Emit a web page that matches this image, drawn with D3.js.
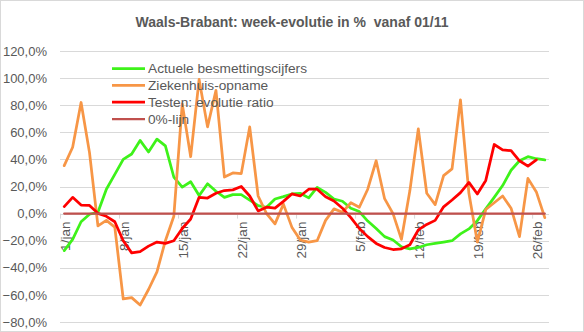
<!DOCTYPE html>
<html><head><meta charset="utf-8">
<script src="https://cdn.jsdelivr.net/npm/d3@7"></script>
<style>
html,body{margin:0;padding:0;background:#fff;}
svg{display:block;font-family:"Liberation Sans",Arial,sans-serif;}
</style></head>
<body>
<svg id="chart" width="584" height="332"></svg>
<script>
const categories = ["1/jan","2/jan","3/jan","4/jan","5/jan","6/jan","7/jan","8/jan","9/jan","10/jan",
"11/jan","12/jan","13/jan","14/jan","15/jan","16/jan","17/jan","18/jan","19/jan","20/jan",
"21/jan","22/jan","23/jan","24/jan","25/jan","26/jan","27/jan","28/jan","29/jan","30/jan","31/jan",
"1/feb","2/feb","3/feb","4/feb","5/feb","6/feb","7/feb","8/feb","9/feb","10/feb",
"11/feb","12/feb","13/feb","14/feb","15/feb","16/feb","17/feb","18/feb","19/feb","20/feb",
"21/feb","22/feb","23/feb","24/feb","25/feb","26/feb","27/feb"];

const tickLabels = ["1/jan","8/jan","15/jan","22/jan","29/jan","5/feb","12/feb","19/feb","26/feb"];
const yTicks = [-80,-60,-40,-20,0,20,40,60,80,100,120];

const actueleBesmettingscijfers = [-27.3,-19,-6,-0.5,1,18,29,40,44,54,
45.5,55,50,27,19.5,23.5,13.3,22,16.5,12,
14,14,10,5.9,4.7,10.8,12.5,14.5,15,11.6,19.4,
15.7,10.8,9.1,3.9,1.5,-5.5,-11,-17,-19.5,-24.5,
-26,-25,-23,-22,-21,-20,-15,-11.3,-5.2,3.5,
12,20.7,32,39,42,40.5,39.6];

const ziekenhuisOpname = [35.4,49,82,45,-9,-5,-10,-63,-62,-67.5,
-56,-43,-20,-2,81,42,99,64,91,27,
30,29.5,64,13,0,-7.6,7,-10,-19.5,-21,-20,
-5,3.5,1,8,4.7,18,39,11,0,-19,
17,62.5,15,6.6,28,33,84,15,-21,3,
8,13,4,-17,26,16,-3];

const testenEvolutieRatio = [5.2,12,6.3,6,0.2,-2,-6,-20,-29,-28,
-24,-21,-22,-20,-11,-4,12,11.5,15,17,
17.5,20,13,2,4.7,4,9,14.5,13,18,18,
12.5,9.3,4,-3,-11,-17,-22,-25,-26.5,-26,
-23,-12,-8,-5,5,10,15.5,23,14.5,24.5,
51,47,46.5,39,35,39.6,null];

const nulLijn = [0,0,0,0,0,0,0,0,0,0,0,0,0,0,0,0,0,0,0,0,0,0,0,0,0,0,0,0,0,0,0,
0,0,0,0,0,0,0,0,0,0,0,0,0,0,0,0,0,0,0,0,0,0,0,0,0,0,0];

const seriesNames = ["Actuele besmettingscijfers","Ziekenhuis-opname","Testen: evolutie ratio","0%-lijn"];
const seriesColors = ["#3ef21a","#f79646","#ff0000","#c0504d"];
const seriesData = [actueleBesmettingscijfers, ziekenhuisOpname, testenEvolutieRatio, nulLijn];

const svg = d3.select("#chart");
const W = 584, H = 332;
const grey = "#595959";

svg.append("rect").attr("x",0.5).attr("y",0.5).attr("width",W-1).attr("height",H-1)
  .attr("fill","#fff").attr("stroke","#d9d9d9");

const x = d3.scaleBand().domain(categories).range([60,549]);
const bw = x.bandwidth();
const y = d3.scaleLinear().domain([-80,120]).range([322,51]);

const loc = d3.formatLocale({decimal:",",thousands:".",grouping:[3],currency:["","€"]});
const f1 = loc.format(".1f");

// gridlines
svg.append("g").selectAll("line").data(yTicks).join("line")
  .attr("x1",60).attr("x2",549)
  .attr("y1",d=>Math.round(y(d))+0.5).attr("y2",d=>Math.round(y(d))+0.5)
  .attr("stroke","#d9d9d9").attr("stroke-width",1);

// y axis labels
const yAxis = d3.axisLeft(y).tickValues(yTicks).tickSize(0).tickPadding(0)
  .tickFormat(d=>f1(d)+"%");
const gy = svg.append("g").attr("transform","translate(47,0)").call(yAxis);
gy.select(".domain").remove();
gy.selectAll("text").attr("fill",grey).style("font-size","13px")
  .style("font-family","'Liberation Sans',Arial,sans-serif");

// x axis
const gx = svg.append("g").attr("transform",`translate(0,${y(0)})`);
gx.selectAll("line.tk").data(tickLabels).join("line").attr("class","tk")
  .attr("x1",d=>x(d)+0.5).attr("x2",d=>x(d)+0.5).attr("y1",0).attr("y2",5)
  .attr("stroke","#d9d9d9");
const xAxis = d3.axisBottom(x).tickValues(tickLabels).tickSize(0).tickPadding(0);
const gxa = svg.append("g").attr("transform",`translate(0,${y(0)})`).call(xAxis);
gxa.select(".domain").remove();
gxa.selectAll("text")
  .attr("transform","translate(1,8) rotate(-90)")
  .attr("x",0).attr("y",0).attr("dy","0.35em")
  .attr("text-anchor","end")
  .attr("fill",grey).style("font-size","13.5px")
  .style("font-family","'Liberation Sans',Arial,sans-serif");

// lines
const line = d3.line()
  .defined(d=>d!=null)
  .x((d,i)=>x(categories[i])+bw/2)
  .y(d=>y(d));

seriesData.forEach((s,k)=>{
  svg.append("path").datum(s)
    .attr("fill","none")
    .attr("stroke",seriesColors[k])
    .attr("stroke-width",k===3?2.25:2.75)
    .attr("stroke-linejoin","round")
    .attr("stroke-linecap","round")
    .attr("d",line);
});

// legend
const lg = svg.append("g");
const rows = [68.5,85.3,102,119];
seriesNames.forEach((n,k)=>{
  lg.append("line").attr("x1",112).attr("x2",145).attr("y1",rows[k]).attr("y2",rows[k])
    .attr("stroke",seriesColors[k]).attr("stroke-width",k===3?2.25:2.75);
  lg.append("text").attr("x",148).attr("y",rows[k]).attr("dy","0.35em")
    .attr("fill",grey).style("font-size","13.7px").text(n);
});

// title
svg.append("text").attr("x",292).attr("y",27).attr("text-anchor","middle")
  .attr("fill",grey).style("font-size","14px").style("font-weight","bold")
  .style("white-space","pre")
  .text("Waals-Brabant: week-evolutie in %  vanaf 01/11");
</script>
</body></html>
